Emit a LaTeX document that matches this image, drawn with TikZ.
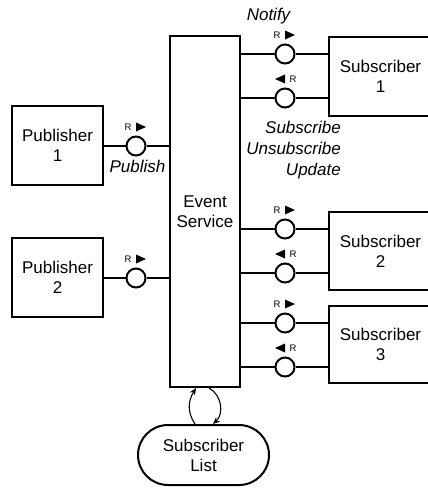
\documentclass[tikz,border=0pt]{standalone}
\usepackage{fontspec}
\setmainfont{Liberation Sans}
\usetikzlibrary{arrows.meta,calc}

% small "R" with a direction triangle above a port circle
\newcommand\sendtag[1]{%
  \node[tag] (#1-r) at ($(#1)+(-8,-19)$) {R};
  \fill ($(#1)+(0,-23.5)$) -- ($(#1)+(10,-19)$) -- ($(#1)+(0,-14.5)$) -- cycle;}
\newcommand\recvtag[1]{%
  \node[tag] (#1-r) at ($(#1)+(8,-19)$) {R};
  \fill ($(#1)+(0,-23.5)$) -- ($(#1)+(-10,-19)$) -- ($(#1)+(0,-14.5)$) -- cycle;}

\begin{document}
\begin{tikzpicture}[x=1pt,y=-1pt,
  box/.style={draw,line width=2pt,inner sep=0pt,align=center,
              font=\fontsize{17}{20}\selectfont},
  port/.style={circle,draw,line width=2pt,minimum size=19pt,inner sep=0pt,fill=white},
  wire/.style={line width=1.1pt},
  tag/.style={font=\fontsize{9.5}{10}\selectfont,inner sep=0pt},
  lbl/.style={font=\fontsize{17}{21}\selectfont\itshape,inner sep=0pt},
  loop/.style={line width=1.1pt,-{Stealth[length=7pt,width=6pt]}}]
\useasboundingbox (0,0) rectangle (428,490);
\clip (0,0) rectangle (428,490);

% central service
\node[box,minimum width=70pt,minimum height=351pt] (es) at (205,211.5) {Event\\Service};

% publishers
\node[box,minimum width=91pt,minimum height=79pt] (pub1) at (57.5,145.5) {Publisher\\1};
\node[box,minimum width=91pt,minimum height=79pt] (pub2) at (57.5,277.5) {Publisher\\2};

% subscribers
\node[box,minimum width=103pt,minimum height=79pt] (sub1) at (380.5,76.5) {Subscriber\\1};
\node[box,minimum width=103pt,minimum height=78pt] (sub2) at (380.5,251) {Subscriber\\2};
\node[box,minimum width=103pt,minimum height=77pt] (sub3) at (380.5,344.5) {Subscriber\\3};

% subscriber list
\node[box,rounded corners=30pt,minimum width=131pt,minimum height=60pt] (sl) at (203.5,455) {Subscriber\\List};

% ports
\node[port] (p1) at (136,146) {};
\node[port] (p2) at (136,278) {};
\node[port] (n1) at (285,54) {};
\node[port] (u1) at (285,98) {};
\node[port] (n2) at (285,229) {};
\node[port] (u2) at (285,273) {};
\node[port] (n3) at (285,323) {};
\node[port] (u3) at (285,367) {};

% wires through the ports
\draw[wire] (pub1.east |- p1) -- (p1) -- (es.west |- p1);
\draw[wire] (pub2.east |- p2) -- (p2) -- (es.west |- p2);
\foreach \p/\s in {n1/sub1,u1/sub1,n2/sub2,u2/sub2,n3/sub3,u3/sub3}
  \draw[wire] (es.east |- \p) -- (\p) -- (\s.west |- \p);

% direction tags
\sendtag{p1}
\sendtag{p2}
\sendtag{n1}
\recvtag{u1}
\sendtag{n2}
\recvtag{u2}
\sendtag{n3}
\recvtag{u3}

% interface labels
\node[lbl] (lpub) at (137.5,166.5) {Publish};
\node[lbl] (lnot) at (268.5,16.5) {Notify};
\node[lbl,align=right,anchor=east] (lsub) at (341,150) {Subscribe\\Unsubscribe\\Update};

% service <-> subscriber list
\draw[loop] ([xshift=-8.5pt]sl.north) .. controls +(-8,-12) and +(-8,13) .. ([xshift=-9pt]es.south);
\draw[loop] ([xshift=4pt]es.south) .. controls +(13,7) and +(11,-10) .. ([xshift=9.5pt]sl.north);
\end{tikzpicture}
\end{document}
